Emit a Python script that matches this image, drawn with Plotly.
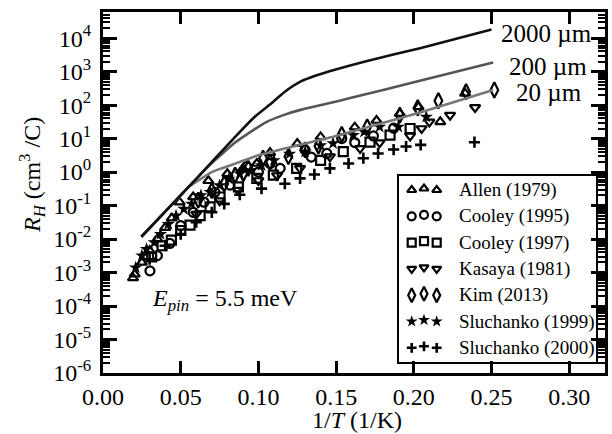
import plotly.graph_objects as go

FONT = "Liberation Serif"

# ---- data ----
allen_x = [0.0193, 0.0204, 0.025, 0.030, 0.035, 0.040, 0.0442, 0.0493, 0.058, 0.0678, 0.080, 0.090,
           0.099, 0.1075, 0.125, 0.140, 0.162, 0.176, 0.191, 0.203, 0.217, 0.233]
allen_y = [6.9e-4, 8.9e-4, 2.0e-3, 4.5e-3, 1.0e-2, 2.2e-2, 4.2e-2, 0.126, 0.18, 0.55, 0.89, 1.26,
           1.8, 3.8, 7.1, 11.2, 21.9, 34.7, 56, 89, 31.6, 224]

cooley95_x = [0.0302, 0.035, 0.043, 0.050, 0.058, 0.065, 0.072, 0.0817, 0.0925, 0.100, 0.1075, 0.114,
              0.130, 0.134, 0.144, 0.1536, 0.162, 0.174, 0.187]
cooley95_y = [1.12e-3, 3.2e-3, 7.4e-3, 2.5e-2, 6.3e-2, 0.126, 0.25, 0.41, 1.45, 1.0, 1.8, 1.29,
              4.6, 2.8, 3.6, 10, 7.6, 12, 20.4]

cooley97_x = [0.0313, 0.038, 0.044, 0.050, 0.056, 0.0625, 0.0689, 0.0753, 0.0871, 0.099, 0.1096,
              0.1246, 0.140, 0.1546, 0.1718, 0.1847, 0.1976]
cooley97_y = [2.95e-3, 6.3e-3, 9.3e-3, 1.8e-2, 2.6e-2, 5.0e-2, 9.1e-2, 0.18, 0.36, 0.65, 0.81,
              1.29, 2.24, 4.1, 7.8, 12.6, 20]

kasaya_x = [0.060, 0.075, 0.087, 0.100, 0.112, 0.1268, 0.146, 0.1654, 0.178, 0.1976, 0.205, 0.210,
            0.2233, 0.2394]
kasaya_y = [5.6e-2, 0.14, 0.29, 0.56, 0.79, 1.29, 2.9, 5.1, 7.6, 12, 20, 31.6, 50, 85]

kim_x = [0.0613, 0.070, 0.078, 0.085, 0.0903, 0.0935, 0.103, 0.1075, 0.1193, 0.130, 0.1386, 0.1536,
         0.170, 0.191, 0.2025, 0.2158, 0.2336, 0.2518]
kim_y = [0.145, 0.28, 0.45, 0.81, 0.91, 1.29, 2.6, 2.0, 2.9, 4.6, 6.0, 13.2,
         22.4, 50, 83, 135, 251, 282]

sl99_x = [0.021, 0.025, 0.028, 0.033, 0.037, 0.042, 0.047, 0.052, 0.057, 0.063, 0.069, 0.075, 0.081,
          0.088, 0.095, 0.102, 0.110, 0.120, 0.130, 0.140, 0.148, 0.161, 0.168, 0.178, 0.190, 0.208]
sl99_y = [1.4e-3, 3.2e-3, 5.0e-3, 7.9e-3, 1.4e-2, 2.8e-2, 5.0e-2, 7.9e-2, 0.112, 0.2, 0.25, 0.4, 0.63,
          0.89, 1.12, 1.58, 2.24, 3.5, 4.0, 6.3, 7.2, 12.6, 15.8, 22.4, 22.4, 44.7]

sl00_x = [0.030, 0.040, 0.050, 0.060, 0.070, 0.078, 0.088, 0.102, 0.117, 0.1268, 0.136, 0.146, 0.158,
          0.1675, 0.177, 0.187, 0.195, 0.2044, 0.239]
sl00_y = [2.5e-3, 6.3e-3, 1.4e-2, 3.2e-2, 6.3e-2, 0.112, 0.21, 0.32, 0.45, 0.65, 0.85, 1.29, 1.8,
          2.6, 3.6, 4.7, 5.8, 6.5, 7.8]

c2000_x = [0.0247, 0.04, 0.06, 0.084, 0.097, 0.107, 0.117, 0.127, 0.137, 0.148, 0.17, 0.204, 0.25]
c2000_y = [0.0117, 0.066, 0.63, 10, 42, 100, 250, 500, 760, 1100, 2090, 5010, 18200]

c200_x = [0.0247, 0.04, 0.06, 0.07, 0.078, 0.085, 0.095, 0.105, 0.117, 0.127, 0.146, 0.159, 0.2, 0.251]
c200_y = [0.0117, 0.066, 0.63, 1.86, 3.98, 7.6, 15.8, 31, 52, 72, 115, 162, 479, 1860]

c20_x = [0.0247, 0.04, 0.05, 0.055, 0.063, 0.07, 0.077, 0.088, 0.1, 0.115, 0.127, 0.146, 0.17, 0.204, 0.251]
c20_y = [0.0117, 0.066, 0.2, 0.355, 0.63, 1.0, 1.32, 2.0, 3.16, 4.8, 6.6, 10.7, 21.9, 60.3, 282]

series_names = ["Allen (1979)", "Cooley (1995)", "Cooley (1997)", "Kasaya (1981)",
                "Kim (2013)", "Sluchanko (1999)", "Sluchanko (2000)"]
series_x = [allen_x, cooley95_x, cooley97_x, kasaya_x, kim_x, sl99_x, sl00_x]
series_y = [allen_y, cooley95_y, cooley97_y, kasaya_y, kim_y, sl99_y, sl00_y]
symbols = ["triangle-up-open", "circle-open", "square-open", "triangle-down-open",
           "diamond-tall-open", "star", "cross-thin-open"]
sizes = [9, 9, 9, 9, 11, 10, 8]
widths = [2.2, 2.2, 2.2, 2.2, 2.2, 0, 2.6]
leg_sizes = [8, 8, 8, 8, 10, 9, 7]

curve_labels = ["2000 µm", "200 µm", "20 µm"]
curve_x = [c2000_x, c200_x, c20_x]
curve_y = [c2000_y, c200_y, c20_y]
curve_colors = ["#111111", "#555555", "#777777"]

xtick_vals = [0.0, 0.05, 0.10, 0.15, 0.20, 0.25, 0.30]
xtick_text = ["0.00", "0.05", "0.10", "0.15", "0.20", "0.25", "0.30"]
ytick_exps = [-6, -5, -4, -3, -2, -1, 0, 1, 2, 3, 4]

fig = go.Figure()

for xs, ys, sym, sz, w in zip(series_x, series_y, symbols, sizes, widths):
    fig.add_trace(go.Scatter(x=xs, y=ys, mode="markers", showlegend=False,
                             marker=dict(symbol=sym, size=sz, color="black",
                                         line=dict(width=w, color="black"))))

# draw lightest curve first so the black one stays on top
for xs, ys, col in reversed(list(zip(curve_x, curve_y, curve_colors))):
    fig.add_trace(go.Scatter(x=xs, y=ys, mode="lines", showlegend=False,
                             line=dict(color=col, width=2.6, shape="spline", smoothing=0.6)))

# ---- manual legend (three markers per row) on an overlay axis ----
PL, PR, PT, PB = 103, 605, 12, 373
def fx(px):
    return (px - PL) / (PR - PL)
def fy(py):
    return (PB - py) / (PB - PT)

row_y = [190 + 26.3 * i for i in range(7)]
mk_x = [411.7, 424.0, 436.7]
for i, (sym, sz, w) in enumerate(zip(symbols, leg_sizes, widths)):
    fig.add_trace(go.Scatter(
        x=[fx(v) for v in mk_x], y=[fy(row_y[i]), fy(row_y[i] - 1.5), fy(row_y[i])],
        xaxis="x2", yaxis="y2", mode="markers", showlegend=False,
        marker=dict(symbol=sym, size=sz, color="black",
                    line=dict(width=w, color="black"))))
    fig.add_annotation(xref="paper", yref="paper", x=fx(457), y=fy(row_y[i]),
                       text=series_names[i], showarrow=False, xanchor="left", yanchor="middle",
                       font=dict(family=FONT, size=19, color="black"))

fig.add_shape(type="rect", xref="paper", yref="paper", x0=fx(398), x1=fx(597), y0=fy(363), y1=fy(175),
              line=dict(color="black", width=2), fillcolor="white", layer="below")

# curve labels
for lab, px, py in zip(curve_labels, [499, 507, 514], [33, 66.7, 93]):
    fig.add_annotation(xref="paper", yref="paper", x=fx(px), y=fy(py), text=lab, showarrow=False,
                       xanchor="left", yanchor="middle", font=dict(family=FONT, size=25, color="black"))

fig.add_annotation(xref="paper", yref="paper", x=fx(150), y=fy(300),
                   text="<i>E<sub>pin</sub></i> = 5.5 meV", showarrow=False,
                   xanchor="left", yanchor="middle", font=dict(family=FONT, size=24, color="black"))

fig.add_annotation(xref="paper", yref="paper", x=fx(32), y=fy(175), textangle=-90,
                   text="<i>R<sub>H</sub></i> (cm<sup>3</sup> /C)", showarrow=False,
                   xanchor="center", yanchor="middle", font=dict(family=FONT, size=24, color="black"))

fig.add_annotation(xref="paper", yref="paper", x=fx(357), y=fy(420),
                   text="1/<i>T</i> (1/K)", showarrow=False,
                   xanchor="center", yanchor="middle", font=dict(family=FONT, size=24, color="black"))

minor_vals = [m * 10.0 ** e for e in range(-6, 5) for m in range(2, 10)]

fig.update_layout(
    width=612, height=434,
    margin=dict(l=PL, r=612 - PR, t=PT, b=434 - PB),
    paper_bgcolor="white", plot_bgcolor="white",
    font=dict(family=FONT, color="black"),
    xaxis=dict(range=[0, 0.323], tickmode="array", tickvals=xtick_vals, ticktext=xtick_text,
               ticks="inside", ticklen=12, tickwidth=2.5, tickcolor="black",
               showline=True, linewidth=3, linecolor="black", mirror="allticks",
               showgrid=False, zeroline=False, ticklabelstandoff=0, automargin=False,
               tickfont=dict(family=FONT, size=24, color="black")),
    yaxis=dict(type="log", range=[-6, 4.78], tickmode="array",
               tickvals=[10.0 ** e for e in ytick_exps],
               ticktext=["10<sup>%d</sup>" % e for e in ytick_exps],
               ticks="inside", ticklen=14, tickwidth=2.5, tickcolor="black",
               minor=dict(ticks="inside", ticklen=7, tickwidth=1.5, tickcolor="black",
                          tickmode="array", tickvals=minor_vals, showgrid=False),
               showline=True, linewidth=3, linecolor="black", mirror="allticks",
               showgrid=False, zeroline=False, ticklabelstandoff=4, automargin=False,
               tickfont=dict(family=FONT, size=24, color="black")),
    xaxis2=dict(overlaying="x", range=[0, 1], visible=False, fixedrange=True),
    yaxis2=dict(overlaying="y", range=[0, 1], visible=False, fixedrange=True),
)

fig.write_html("out.html", config={"displayModeBar": False},
               post_script="document.body.style.margin='0';")
